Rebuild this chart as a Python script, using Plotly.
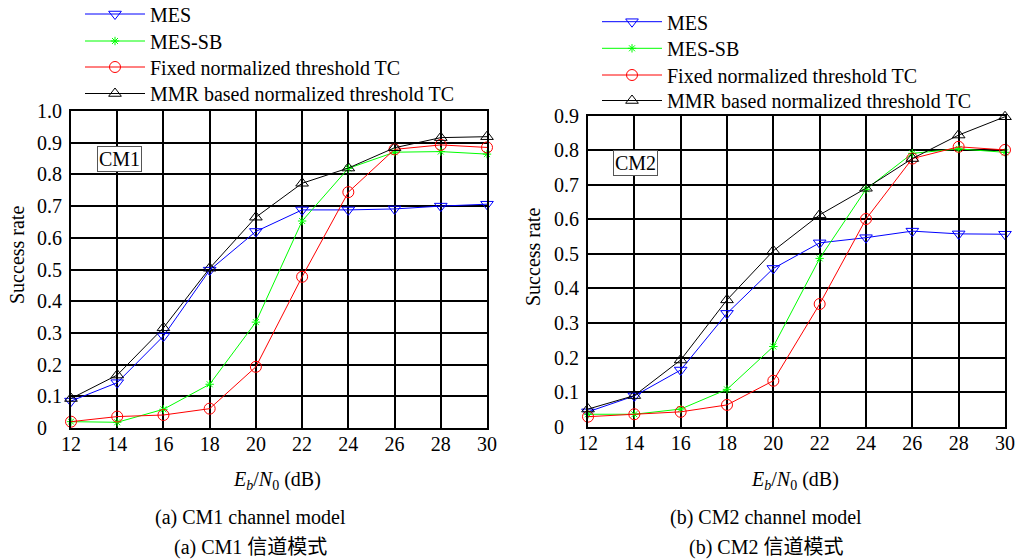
import plotly.graph_objects as go

W, H = 1017, 559

snr = [12, 14, 16, 18, 20, 22, 24, 26, 28, 30]
series_names = ["MES", "MES-SB", "Fixed normalized threshold TC", "MMR based normalized threshold TC"]

# CM1 channel model
cm1_mes = [0.085, 0.143, 0.29, 0.498, 0.62, 0.688, 0.688, 0.691, 0.70, 0.706]
cm1_messb = [0.02, 0.018, 0.059, 0.138, 0.334, 0.653, 0.819, 0.87, 0.872, 0.864]
cm1_fixed = [0.02, 0.036, 0.041, 0.061, 0.193, 0.477, 0.744, 0.879, 0.893, 0.885]
cm1_mmr = [0.093, 0.167, 0.316, 0.504, 0.665, 0.772, 0.82, 0.884, 0.916, 0.919]

# CM2 channel model
cm2_mes = [0.043, 0.089, 0.164, 0.328, 0.458, 0.532, 0.547, 0.566, 0.558, 0.557]
cm2_messb = [0.036, 0.036, 0.051, 0.108, 0.232, 0.487, 0.687, 0.791, 0.804, 0.794]
cm2_fixed = [0.029, 0.036, 0.043, 0.063, 0.133, 0.355, 0.601, 0.776, 0.81, 0.801]
cm2_mmr = [0.051, 0.09, 0.193, 0.367, 0.509, 0.613, 0.69, 0.776, 0.844, 0.897]

y1_ticks = [0, 0.1, 0.2, 0.3, 0.4, 0.5, 0.6, 0.7, 0.8, 0.9, 1.0]
y1_labels = ["0", "0.1", "0.2", "0.3", "0.4", "0.5", "0.6", "0.7", "0.8", "0.9", "1.0"]
y2_ticks = [0, 0.1, 0.2, 0.3, 0.4, 0.5, 0.6, 0.7, 0.8, 0.9]
y2_labels = ["0", "0.1", "0.2", "0.3", "0.4", "0.5", "0.6", "0.7", "0.8", "0.9"]

colors = ["#0000ff", "#00ff00", "#ff0000", "#000000"]
symbols = ["triangle-down-open", "asterisk-open", "circle-open", "triangle-up-open"]
msizes = [11, 7, 11, 11]

SERIF = "Liberation Serif, Times New Roman, serif"
CJK = "Liberation Serif, Noto Sans CJK SC, serif"

def px(x):
    return x / W

def py(y):
    return 1 - y / H

def left_align(labels):
    # the reference shows y tick labels left-aligned: pad the short "0" label
    return [lab + "\u00a0" * 3 if len(lab) == 1 else lab for lab in labels]

fig = go.Figure()

# legend placement (pixels): left edge of legend box, centre y of each item
legend_left = [80, 597]
legend_rows = [[14, 41, 67, 93.5], [21.7, 48.3, 75, 100.5]]

panels = [
    ([cm1_mes, cm1_messb, cm1_fixed, cm1_mmr], "x", "y"),
    ([cm2_mes, cm2_messb, cm2_fixed, cm2_mmr], "x2", "y2"),
]
legend_layouts = {}
k = 0
for p, (data, xa, ya) in enumerate(panels):
    for i, vals in enumerate(data):
        k += 1
        lg = "legend" if k == 1 else "legend%d" % k
        fig.add_trace(go.Scatter(
            x=snr, y=vals, name=series_names[i], mode="lines+markers",
            xaxis=xa, yaxis=ya, legend=lg,
            line=dict(color=colors[i], width=1),
            marker=dict(symbol=symbols[i], size=msizes[i], color=colors[i],
                        line=dict(color=colors[i], width=1)),
            cliponaxis=False,
        ))
        legend_layouts[lg] = dict(
            x=px(legend_left[p]), y=py(legend_rows[p][i]),
            xanchor="left", yanchor="middle",
            bgcolor="rgba(0,0,0,0)", borderwidth=0,
            font=dict(family=SERIF, size=20, color="black"),
            itemwidth=60,
        )

axis_common = dict(
    showgrid=True, gridcolor="black", gridwidth=1.5,
    showline=True, linecolor="black", linewidth=2, mirror=True,
    zeroline=False, ticks="", automargin=False,
    tickfont=dict(family=SERIF, size=20, color="black"),
)

fig.update_layout(
    width=W, height=H,
    margin=dict(l=0, r=0, t=0, b=0, autoexpand=False),
    paper_bgcolor="white", plot_bgcolor="white",
    font=dict(family=SERIF, size=20, color="black"),
    xaxis=dict(domain=[px(71), px(487)], range=[12, 30], tickvals=snr,
               anchor="y", **axis_common),
    yaxis=dict(domain=[py(428), py(111)], range=[0, 1.0], tickvals=y1_ticks,
               ticktext=left_align(y1_labels), anchor="x", ticklabelstandoff=3,
               **axis_common),
    xaxis2=dict(domain=[px(588), px(1005)], range=[12, 30], tickvals=snr,
                anchor="y2", **axis_common),
    yaxis2=dict(domain=[py(426.7), py(115.7)], range=[0, 0.9], tickvals=y2_ticks,
                ticktext=left_align(y2_labels), anchor="x2", ticklabelstandoff=3,
                **axis_common),
    showlegend=True,
    **legend_layouts,
)
try:
    fig.update_xaxes(ticklabelstandoff=-3)
except Exception:
    pass

annotations = [
    dict(x=px(119), y=py(158.5), text="CM1", bordercolor="#555555", borderwidth=1,
         bgcolor="white", borderpad=1),
    dict(x=px(635.5), y=py(163.5), text="CM2", bordercolor="#555555", borderwidth=1,
         bgcolor="white", borderpad=1),
    dict(x=px(17), y=py(255), text="Success rate", textangle=-90),
    dict(x=px(533), y=py(257), text="Success rate", textangle=-90),
    dict(x=px(277), y=py(480), text="<i>E</i><sub><i>b</i></sub>/<i>N</i><sub>0</sub> (dB)"),
    dict(x=px(795), y=py(480), text="<i>E</i><sub><i>b</i></sub>/<i>N</i><sub>0</sub> (dB)"),
    dict(x=px(250), y=py(517), text="(a) CM1 channel model"),
    dict(x=px(766), y=py(517), text="(b) CM2 channel model"),
    dict(x=px(250), y=py(547), text="(a) CM1 信道模式", font=dict(family=CJK)),
    dict(x=px(766), y=py(547), text="(b) CM2 信道模式", font=dict(family=CJK)),
]
for a in annotations:
    a.setdefault("xref", "paper")
    a.setdefault("yref", "paper")
    a.setdefault("showarrow", False)
    a.setdefault("xanchor", "center")
    a.setdefault("yanchor", "middle")
    f = dict(family=SERIF, size=20, color="black")
    f.update(a.get("font", {}))
    a["font"] = f
    fig.add_annotation(**a)

fig.write_html(
    "out.html",
    config={"displayModeBar": False},
    post_script="document.body.style.margin='0px';document.body.style.overflow='hidden';",
)
